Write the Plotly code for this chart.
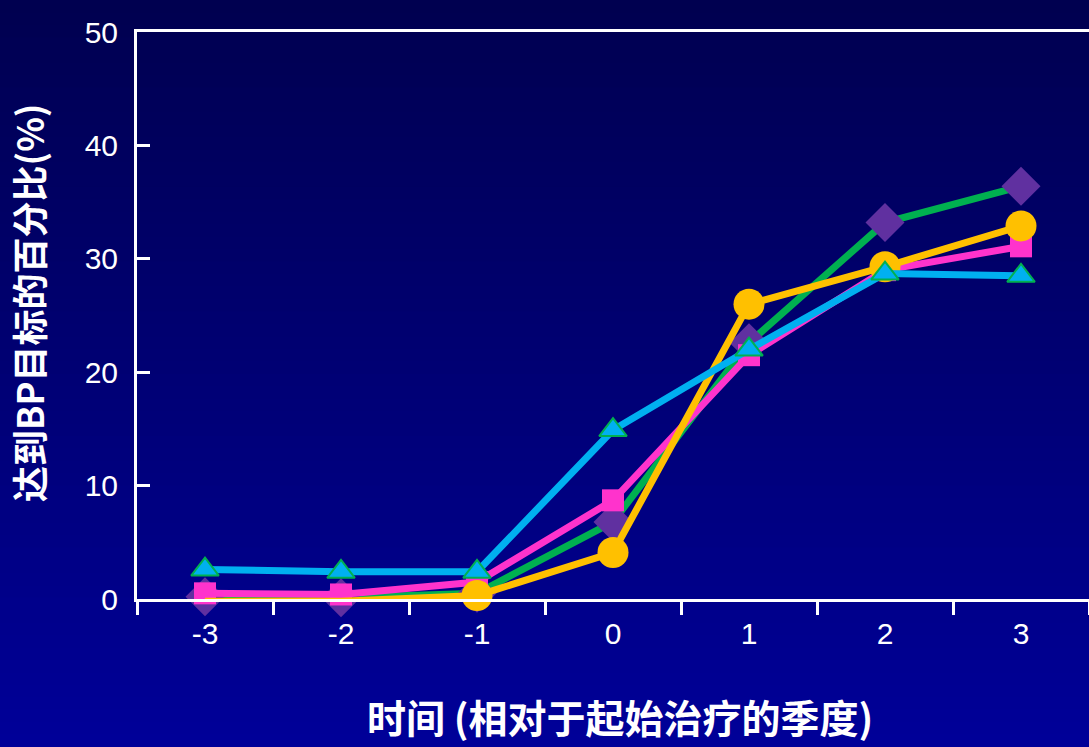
import plotly.graph_objects as go

quarters = ["-3", "-2", "-1", "0", "1", "2", "3"]
series_diamond = [0.2, 0.1, 0.5, 6.8, 22.6, 33.2, 36.4]
series_square = [0.5, 0.4, 1.5, 8.7, 21.5, 29.0, 31.1]
series_circle = [-0.2, -0.2, 0.3, 4.1, 26.0, 29.3, 32.9]
series_triangle = [2.6, 2.4, 2.4, 14.9, 22.0, 28.7, 28.5]
y_ticks = [0, 10, 20, 30, 40, 50]

W, H = 1089, 747
ML, MR, MT, MB = 137, 0, 32, 148
ph = H - MT - MB

fig = go.Figure()

fig.add_trace(go.Scatter(
    x=quarters, y=series_diamond, mode="lines+markers",
    line=dict(color="#00B050", width=7),
    marker=dict(symbol="diamond", size=30, color="#6030A0"),
    showlegend=False, cliponaxis=False))
fig.add_trace(go.Scatter(
    x=quarters, y=series_square, mode="lines+markers",
    line=dict(color="#FF33CC", width=7),
    marker=dict(symbol="square", size=22, color="#FF33CC"),
    showlegend=False, cliponaxis=False))
fig.add_trace(go.Scatter(
    x=quarters, y=series_circle, mode="lines+markers",
    line=dict(color="#FFC000", width=7),
    marker=dict(symbol="circle", size=31, color="#FFC000"),
    showlegend=False, cliponaxis=False))
fig.add_trace(go.Scatter(
    x=quarters, y=series_triangle, mode="lines+markers",
    line=dict(color="#00B0F0", width=7),
    marker=dict(symbol="triangle-up", size=24, color="#00B0F0",
                line=dict(color="#00B050", width=2)),
    showlegend=False, cliponaxis=False))

# vertical gradient background
n = 60
y0p = -MB / ph
y1p = 1 + MT / ph
top = (0, 0, 0x50)
bot = (0, 0, 0x98)
shapes = []
for i in range(n):
    t = i / (n - 1)
    c = tuple(int(round(bot[k] + (top[k] - bot[k]) * t)) for k in range(3))
    ya = y0p + (y1p - y0p) * i / n
    yb = y0p + (y1p - y0p) * (i + 1) / n
    shapes.append(dict(type="rect", xref="paper", yref="paper",
                       x0=-ML / (W - ML - MR) - 0.01, x1=1.01,
                       y0=ya, y1=yb + 0.002, layer="below",
                       line=dict(width=0), fillcolor="rgb(%d,%d,%d)" % c))

fig.update_layout(
    width=W, height=H,
    margin=dict(l=ML, r=MR, t=MT, b=MB),
    paper_bgcolor="#000070",
    plot_bgcolor="rgba(0,0,0,0)",
    shapes=shapes,
    font=dict(family="Liberation Sans, Arial, sans-serif", color="white"),
    xaxis=dict(
        type="category", categoryorder="array", categoryarray=quarters,
        range=[-0.5, 6.5], tickson="boundaries",
        showline=True, linecolor="white", linewidth=3, mirror=True,
        ticks="outside", ticklen=13, tickwidth=3, tickcolor="white",
        showgrid=False, zeroline=False, ticklabelstandoff=6,
        tickfont=dict(size=30, color="white"),
    ),
    yaxis=dict(
        range=[0, 50], tickvals=y_ticks,
        showline=True, linecolor="white", linewidth=3,
        ticks="inside", ticklen=13, tickwidth=3, tickcolor="white",
        showgrid=False, zeroline=False, ticklabelstandoff=10,
        tickfont=dict(size=30, color="white"),
    ),
    annotations=[
        dict(text="<b>时间 (相对于起始治疗的季度)</b>", xref="paper", yref="paper",
             x=(620 - ML) / (W - ML - MR), y=-(716 - 599) / ph,
             xanchor="center", yanchor="middle",
             showarrow=False,
             font=dict(size=39, color="white",
                       family="Noto Sans CJK SC, Liberation Sans, sans-serif")),
        dict(text="<b>达到BP目标的百分比(%)</b>", xref="paper", yref="paper",
             x=-(ML - 28) / (W - ML - MR), y=(599 - 303) / ph,
             xanchor="center", yanchor="middle", textangle=-90,
             showarrow=False,
             font=dict(size=36, color="white",
                       family="Noto Sans CJK SC, Liberation Sans, sans-serif")),
    ],
)

fig.write_html("out.html")
